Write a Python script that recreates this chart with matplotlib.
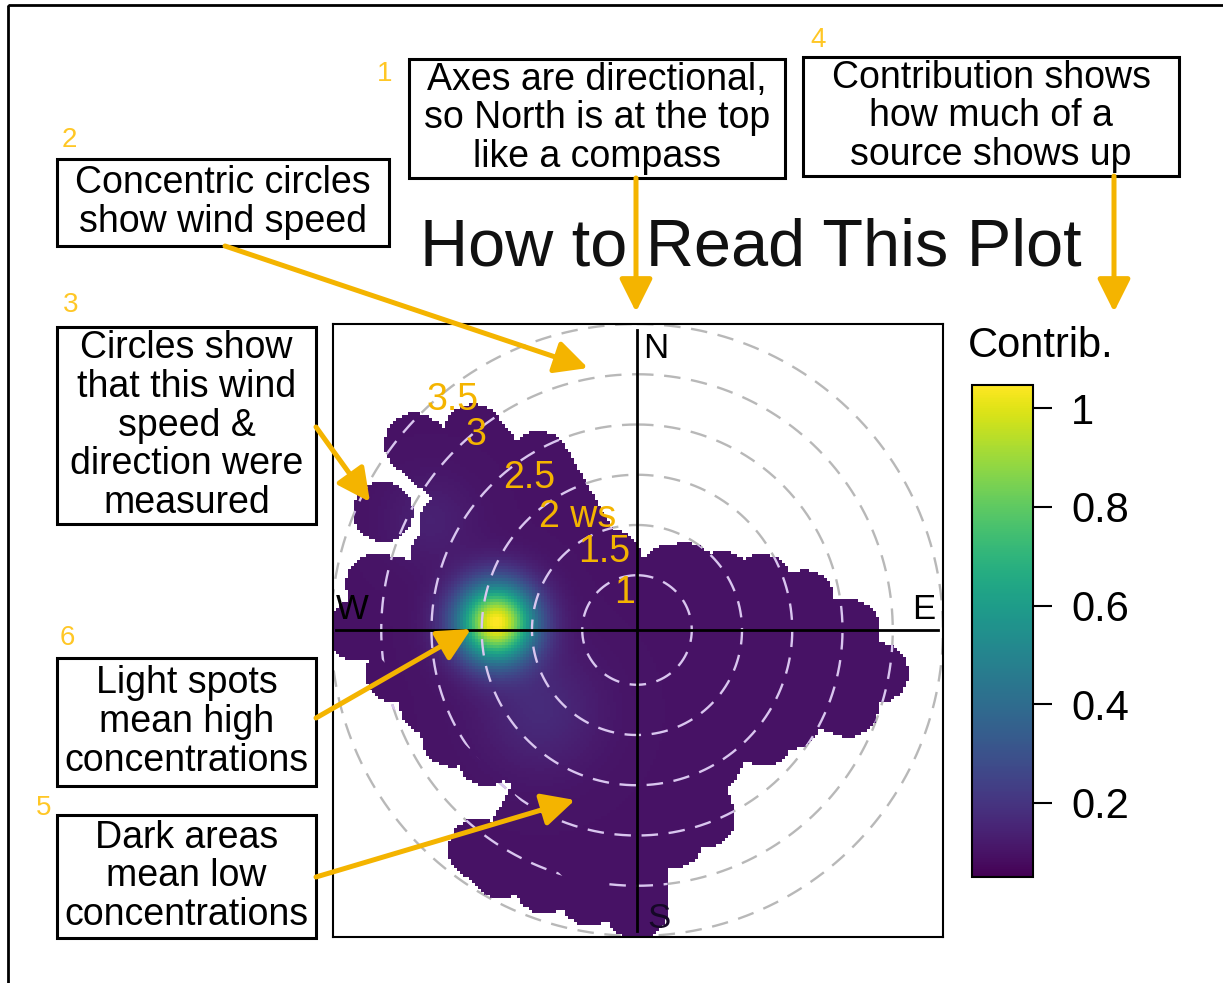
import numpy as np
import matplotlib
matplotlib.use("Agg")
import matplotlib.pyplot as plt
from matplotlib import transforms
from matplotlib.patches import Rectangle, PathPatch, FancyArrowPatch

plt.rcParams['font.family'] = ['Liberation Sans', 'DejaVu Sans']

W, H = 1223, 983

# ---- values ----
# highest wind speed measured for each wind direction
ray_wd = [0, 10, 20, 30, 40, 50, 60, 70, 80, 90, 100, 110,
          120, 130, 140, 150, 160, 170, 180, 190, 200, 210, 220, 230,
          240, 250, 260, 270, 280, 290, 300, 310, 320, 330, 340, 350]
ray_ws_max = [0.65, 0.73, 0.87, 1.09, 1.20, 1.23, 1.43, 1.78, 2.15, 2.57, 2.89, 2.69,
              2.23, 2.10, 1.85, 1.95, 2.44, 2.55, 3.24, 3.14, 3.14, 3.19, 2.15, 2.41,
              2.58, 2.64, 2.89, 3.24, 3.09, 2.54, 2.60, 3.34, 2.99, 2.40, 1.20, 0.85]
# lone measurements away from the main cloud
extra_wd = [295, 216]
extra_ws = [3.24, 3.15]

# contribution: background level plus the sources seen on the map
base_contrib = 0.1
src_wd = [273, 230, 298]
src_ws = [1.86, 1.71, 2.78]
src_peak = [0.95, 0.07, 0.04]
src_width = [0.27, 0.40, 0.30]

ws_circles = [1, 1.5, 2, 2.5, 3, 3.5]
ws_labels = ['1', '1.5', '2 ws', '2.5', '3', '3.5']
cbar_ticks = [0.2, 0.4, 0.6, 0.8, 1.0]
cbar_labels = ['0.2', '0.4', '0.6', '0.8', '1']
cbar_min, cbar_max = 0.05, 1.047

notes = ["Axes are directional,\nso North is at the top\nlike a compass",
         "Concentric circles\nshow wind speed",
         "Circles show\nthat this wind\nspeed &\ndirection were\nmeasured",
         "Contribution shows\nhow much of a\nsource shows up",
         "Dark areas\nmean low\nconcentrations",
         "Light spots\nmean high\nconcentrations"]
note_nums = ['1', '2', '3', '4', '5', '6']

# ---- layout (pixels from top-left) ----
note_boxes = [(409, 59, 785, 178), (57, 159, 389, 246), (57, 327, 316, 524),
              (803, 57, 1179, 176), (57, 815, 316, 938), (57, 658, 316, 786)]
num_pos = [(385, 74), (69, 140), (71, 305), (818, 40), (44, 808), (67, 638)]
arrows = [((636, 178), (636, 312)), ((225, 246), (588, 368)), ((316, 427), (370, 502)),
          ((1114, 176), (1114, 312)), ((316, 877), (575, 800)), ((316, 718), (471, 629))]
ws_label_off = [(-12, 37), (-33, 78), (-59, 113), (-108, 152), (-161, 195), (-184, 230)]

ws0 = 0.455          # wind speed at the centre of the plot
R = 0.30             # radius of the circle drawn round each measurement
YELLOW = '#F4B400'


def to_xy(wd, ws):
    r = np.asarray(ws, float) - ws0
    th = np.deg2rad(wd)
    return r * np.sin(th), r * np.cos(th)


def fa(x0, y0, x1, y1):
    return [x0 / W, 1 - y1 / H, (x1 - x0) / W, (y1 - y0) / H]


fig = plt.figure(figsize=(W / 100, H / 100), dpi=100)
pix = transforms.Affine2D().scale(1.0 / W, -1.0 / H).translate(0, 1) + fig.transFigure

# outer frame
fig.add_artist(Rectangle((8, 5), 1400, 1200, transform=pix, fill=False, ec='black', lw=2))

# ---- polar panel ----
ax = fig.add_axes(fa(333, 324, 943, 937))
xlim = (-3.025, 3.045)
ylim = (-3.055, 3.045)

step = 0.03
gx = np.arange(xlim[0], xlim[1], step) + step / 2
gy = np.arange(ylim[0], ylim[1], step) + step / 2
GX, GY = np.meshgrid(gx, gy)

covered = np.zeros(GX.shape, bool)
for wd, wmax in zip(ray_wd, ray_ws_max):
    ex, ey = to_xy(wd, wmax)
    t = np.clip((GX * ex + GY * ey) / (ex * ex + ey * ey), 0, 1)
    covered |= (GX - t * ex) ** 2 + (GY - t * ey) ** 2 < R ** 2
for wd, ws in zip(extra_wd, extra_ws):
    px, py = to_xy(wd, ws)
    covered |= (GX - px) ** 2 + (GY - py) ** 2 < R ** 2

Z = np.full(GX.shape, base_contrib)
for wd, ws, pk, sg in zip(src_wd, src_ws, src_peak, src_width):
    sx, sy = to_xy(wd, ws)
    Z += pk * np.exp(-((GX - sx) ** 2 + (GY - sy) ** 2) / (2 * sg ** 2))
Zm = np.ma.masked_where(~covered, Z)

im = ax.imshow(Zm, extent=[gx[0] - step / 2, gx[-1] + step / 2, gy[0] - step / 2, gy[-1] + step / 2],
               origin='lower', cmap='viridis', vmin=cbar_min, vmax=cbar_max,
               interpolation='nearest', aspect='auto', zorder=2)

# outline of the measured area, used to tint the rings inside it
cs = ax.contour(GX, GY, covered.astype(float), levels=[0.5])
blob_path = cs.get_paths()[0]
cs.remove()
clip = PathPatch(blob_path, transform=ax.transData, fc='none', ec='none')
ax.add_patch(clip)

th = np.linspace(0, 2 * np.pi, 721)
for ws in ws_circles:
    r = ws - ws0
    ax.plot(r * np.sin(th), r * np.cos(th), color='#B8B8B8', lw=1.7, ls=(0, (7, 4.5)), zorder=1)
    ln, = ax.plot(r * np.sin(th), r * np.cos(th), color='#D9C6EF', lw=1.7, ls=(0, (7, 4.5)), zorder=3)
    ln.set_clip_path(clip)

ax.plot([0, 0], [-3.0, 2.99], color='black', lw=2, zorder=4)
ax.plot([-3.0, 3.0], [0, 0], color='black', lw=2, zorder=4)

ax.text(0.06, 2.8, 'N', fontsize=25, ha='left', va='center', zorder=5)
ax.text(2.97, 0.2, 'E', fontsize=25, ha='right', va='center', zorder=5)
ax.text(-3.0, 0.2, 'W', fontsize=25, ha='left', va='center', zorder=5)
ax.text(0.1, -2.87, 'S', fontsize=25, ha='left', va='center', color='#150826', zorder=5)

for lbl, off in zip(ws_labels, ws_label_off):
    ax.annotate(lbl, xy=(0, 0), xytext=off, textcoords='offset pixels',
                ha='center', va='center', fontsize=27, color=YELLOW, zorder=6)

ax.set_xlim(xlim)
ax.set_ylim(ylim)
ax.set_xticks([])
ax.set_yticks([])
for sp in ax.spines.values():
    sp.set_linewidth(1.5)

# ---- colour key ----
cax = fig.add_axes(fa(972, 385, 1033, 877))
cb = fig.colorbar(im, cax=cax, ticks=cbar_ticks)
cb.set_ticklabels(cbar_labels)
cax.tick_params(length=13.5, width=1.5, labelsize=30, pad=14)
cb.outline.set_linewidth(1.5)
fig.text(968, 357, 'Contrib.', transform=pix, fontsize=30, ha='left', va='baseline')

# ---- title ----
fig.text(751, 265, 'How to Read This Plot', transform=pix, fontsize=48,
         ha='center', va='baseline', color='#111111')

# ---- notes ----
for txt, (x0, y0, x1, y1) in zip(notes, note_boxes):
    fig.add_artist(Rectangle((x0, y0), x1 - x0, y1 - y0, transform=pix,
                             fill=False, ec='black', lw=2.2))
    fig.text((x0 + x1) / 2, (y0 + y1) / 2, txt, transform=pix, fontsize=27,
             ha='center', va='center', multialignment='center', linespacing=1.09)

for n, (x, y) in zip(note_nums, num_pos):
    fig.text(x, y, n, transform=pix, fontsize=20, ha='center', va='center', color='#FFC726')

for a, b in arrows:
    fig.add_artist(FancyArrowPatch(a, b, transform=pix,
                                   arrowstyle='-|>,head_length=20,head_width=10',
                                   mutation_scale=1, lw=3.6, color=YELLOW,
                                   shrinkA=0, shrinkB=0, zorder=6))

fig.savefig('out.png', dpi=100)
